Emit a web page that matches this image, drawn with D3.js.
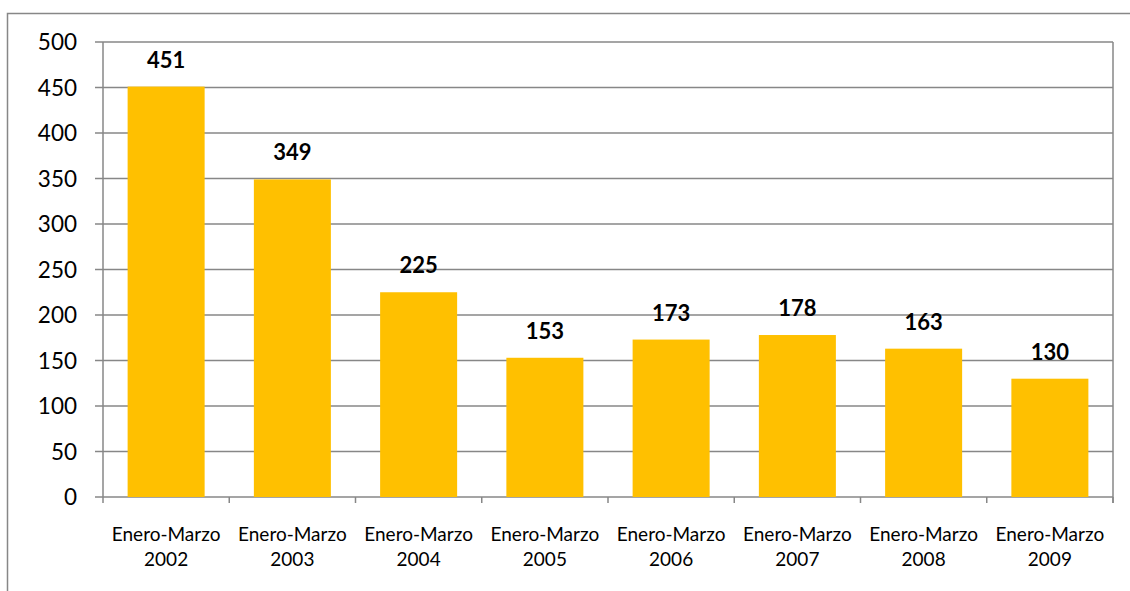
<!DOCTYPE html>
<html>
<head>
<meta charset="utf-8">
<script src="https://cdn.jsdelivr.net/npm/d3@7"></script>
<style>
  body { margin: 0; background: #fff; }
  svg { display: block; font-family: Lato, "Open Sans", sans-serif; }
</style>
</head>
<body>
<svg id="chart"></svg>
<script>
// datos del gráfico
const periods = ["Enero-Marzo", "Enero-Marzo", "Enero-Marzo", "Enero-Marzo", "Enero-Marzo", "Enero-Marzo", "Enero-Marzo", "Enero-Marzo"];
const years = ["2002", "2003", "2004", "2005", "2006", "2007", "2008", "2009"];
const values = [451, 349, 225, 153, 173, 178, 163, 130];
const yTicks = [0, 50, 100, 150, 200, 250, 300, 350, 400, 450, 500];

const width = 1130, height = 591;
const margin = { top: 42, right: 17, bottom: 94, left: 103 };
const grey = "#878787";

const svg = d3.select("#chart").attr("width", width).attr("height", height);

// marco exterior
svg.append("rect")
    .attr("x", 7.5).attr("y", 13.5)
    .attr("width", 1140).attr("height", 600)
    .attr("fill", "none").attr("stroke", grey).attr("stroke-width", 1.5);

const x = d3.scaleBand()
    .domain(years)
    .range([margin.left, width - margin.right])
    .paddingInner(0.39).paddingOuter(0.195);

const y = d3.scaleLinear()
    .domain([0, 500])
    .range([height - margin.bottom, margin.top]);

// líneas de cuadrícula
svg.append("g")
    .selectAll("line")
    .data(yTicks)
    .enter()
    .append("line")
    .attr("x1", margin.left - 8).attr("x2", width - margin.right)
    .attr("y1", d => y(d)).attr("y2", d => y(d))
    .attr("stroke", grey).attr("stroke-width", 1.5);

// barras
svg.append("g")
    .selectAll("rect")
    .data(values)
    .enter()
    .append("rect")
    .attr("x", (d, i) => x(years[i]))
    .attr("y", d => y(d))
    .attr("width", x.bandwidth())
    .attr("height", d => y(0) - y(d))
    .attr("fill", "#ffc000");

// ejes
svg.append("line")
    .attr("x1", margin.left).attr("x2", margin.left)
    .attr("y1", y(500)).attr("y2", y(0))
    .attr("stroke", grey).attr("stroke-width", 1.5);
svg.append("line")
    .attr("x1", width - margin.right).attr("x2", width - margin.right)
    .attr("y1", y(500)).attr("y2", y(0) + 6)
    .attr("stroke", grey).attr("stroke-width", 1.5);

const step = x.step();
svg.append("g")
    .selectAll("line")
    .data(d3.range(years.length + 1))
    .enter()
    .append("line")
    .attr("x1", i => margin.left + i * step).attr("x2", i => margin.left + i * step)
    .attr("y1", y(0)).attr("y2", y(0) + 6)
    .attr("stroke", grey).attr("stroke-width", 1.5);

// etiquetas del eje Y
svg.append("g")
    .selectAll("text")
    .data(yTicks)
    .enter()
    .append("text")
    .attr("x", 77)
    .attr("y", d => y(d))
    .attr("dy", "0.36em")
    .attr("text-anchor", "end")
    .style("font-size", "22.5px")
    .style("fill", "#000")
    .text(d => d);

// etiquetas del eje X
const xLabels = svg.append("g")
    .selectAll("text")
    .data(years)
    .enter()
    .append("text")
    .attr("text-anchor", "middle")
    .style("font-size", "19px")
    .style("fill", "#000");
xLabels.append("tspan")
    .attr("x", d => x(d) + x.bandwidth() / 2)
    .attr("y", 541)
    .text((d, i) => periods[i]);
xLabels.append("tspan")
    .attr("x", d => x(d) + x.bandwidth() / 2)
    .attr("y", 566)
    .text(d => d);

// valores sobre las barras
svg.append("g")
    .selectAll("text")
    .data(values)
    .enter()
    .append("text")
    .attr("x", (d, i) => x(years[i]) + x.bandwidth() / 2)
    .attr("y", d => y(d) - 19)
    .attr("text-anchor", "middle")
    .style("font-size", "22px")
    .style("font-weight", "bold")
    .style("fill", "#000")
    .text(d => d);
</script>
</body>
</html>
